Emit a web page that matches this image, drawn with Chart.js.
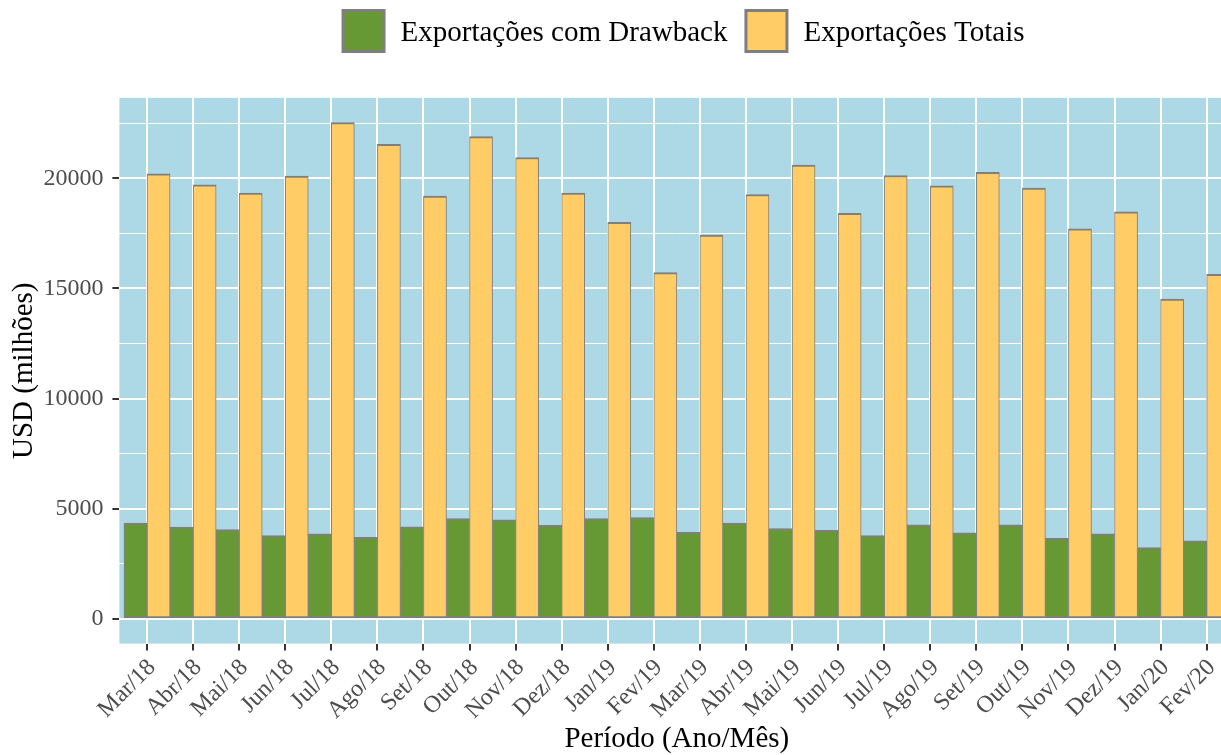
<!DOCTYPE html>
<html>
<head>
<meta charset="utf-8">
<script src="https://cdn.jsdelivr.net/npm/chart.js@4.4.1/dist/chart.umd.min.js"></script>
<style>
html,body{margin:0;padding:0;overflow:hidden;background:#fff;width:1221px;height:755px}
#wrap{width:1240px;height:755px}
</style>
</head>
<body>
<div id="wrap"><canvas id="c" width="1240" height="755" style="width:1240px;height:755px"></canvas></div>
<script>
// ---- data ----
const categories = ['Mar/18','Abr/18','Mai/18','Jun/18','Jul/18','Ago/18','Set/18','Out/18','Nov/18','Dez/18','Jan/19','Fev/19','Mar/19','Abr/19','Mai/19','Jun/19','Jul/19','Ago/19','Set/19','Out/19','Nov/19','Dez/19','Jan/20','Fev/20'];
const drawback = [4350,4170,4050,3780,3860,3700,4180,4550,4500,4250,4550,4600,3930,4350,4100,4020,3780,4270,3900,4270,3650,3860,3230,3540];
const totais   = [20210,19710,19330,20100,22530,21550,19200,21900,20950,19330,18000,15720,17420,19270,20600,18410,20130,19660,20280,19560,17710,18480,14520,15640];
const seriesLabels = ['Exportações com Drawback','Exportações Totais'];
const yMajorTicks = [0,5000,10000,15000,20000];
const yMinorTicks = [2500,7500,12500,17500,22500];
const xTitle = 'Período (Ano/Mês)';
const yTitle = 'USD (milhões)';

const FONT = '"Liberation Serif", "Times New Roman", serif';
const GREEN = '#669933', YELLOW = '#FFCC66', EDGE = '#7F7F7F';

const panelPlugin = {
  id: 'panel',
  beforeDraw(chart) {
    const {ctx, chartArea: a} = chart;
    ctx.save();
    ctx.fillStyle = '#fff';
    ctx.fillRect(0, 0, chart.width, chart.height);
    ctx.fillStyle = '#ADD8E6';
    ctx.fillRect(a.left, a.top, a.right - a.left, a.bottom - a.top);
    ctx.restore();
  }
};

const legendPlugin = {
  id: 'ggLegend',
  afterDraw(chart) {
    const ctx = chart.ctx;
    ctx.save();
    ctx.font = '29px ' + FONT;
    const items = chart.data.datasets.map(ds => ({label: ds.label, fill: ds.backgroundColor}));
    const box = 44, gapText = 15, gapItem = 17, bw = 3;
    const widths = items.map(it => ctx.measureText(it.label).width);
    let total = 0;
    items.forEach((it, i) => { total += box + gapText + widths[i]; });
    total += gapItem * (items.length - 1);
    let x = 683 - total / 2;
    const y = 9;
    items.forEach((it, i) => {
      ctx.fillStyle = EDGE;
      ctx.fillRect(x, y, box, box);
      ctx.fillStyle = it.fill;
      ctx.fillRect(x + bw, y + bw, box - 2 * bw, box - 2 * bw);
      ctx.fillStyle = '#000';
      ctx.textBaseline = 'middle';
      ctx.textAlign = 'left';
      ctx.fillText(it.label, x + box + gapText, y + box / 2 + 2);
      x += box + gapText + widths[i] + gapItem;
    });
    ctx.restore();
  }
};

const barStyle = {
  borderColor: EDGE,
  borderWidth: {top: 2, bottom: 2, left: 1, right: 1},
  borderSkipped: false,
  categoryPercentage: 1,
  barPercentage: 1
};

new Chart(document.getElementById('c'), {
  type: 'bar',
  data: {
    datasets: [
      Object.assign({label: seriesLabels[0], backgroundColor: GREEN,
        data: drawback.map((v, i) => ({x: i, y: v}))}, barStyle),
      Object.assign({label: seriesLabels[1], backgroundColor: YELLOW,
        data: totais.map((v, i) => ({x: i, y: v}))}, barStyle)
    ]
  },
  options: {
    responsive: false,
    animation: false,
    devicePixelRatio: 1,
    layout: {padding: {top: 97.9, right: 5.7, bottom: 0, left: 0}},
    plugins: {legend: {display: false}, tooltip: {enabled: false}},
    scales: {
      x: {
        type: 'linear',
        offset: false,
        min: -0.6,
        max: categories.length - 0.4,
        afterBuildTicks: s => { s.ticks = categories.map((_, i) => ({value: i})); },
        afterCalculateLabelRotation: s => { s.labelRotation = 45; },
        afterFit: s => { s.height = 111.4; },
        ticks: {
          autoSkip: false, minRotation: 45, maxRotation: 45,
          color: '#4D4D4D', font: {family: FONT, size: 24},
          padding: 3, labelOffset: 5,
          callback: (v, i) => categories[i]
        },
        grid: {offset: false, color: '#FFFFFF', lineWidth: 2, tickColor: '#333333', tickWidth: 2, tickLength: 7},
        border: {display: false},
        title: {display: true, text: xTitle, color: '#000', font: {family: FONT, size: 29, lineHeight: 1}, padding: {top: 0, bottom: 1}}
      },
      y: {
        min: -1126,
        max: 23655,
        afterBuildTicks: s => { s.ticks = yMajorTicks.concat(yMinorTicks).sort((a, b) => a - b).map(v => ({value: v})); },
        afterFit: s => { s.width = 119.4; },
        ticks: {
          color: '#4D4D4D', font: {family: FONT, size: 24}, padding: 9,
          callback: v => yMajorTicks.includes(v) ? String(v) : ''
        },
        grid: {
          color: '#FFFFFF',
          lineWidth: c => (c.tick && yMajorTicks.includes(c.tick.value)) ? 2 : 1,
          tickColor: c => (c.tick && yMajorTicks.includes(c.tick.value)) ? '#333333' : 'rgba(0,0,0,0)',
          tickWidth: 2, tickLength: 7
        },
        border: {display: false},
        title: {display: true, text: yTitle, color: '#000', font: {family: FONT, size: 29, lineHeight: 1}, padding: {top: 9.5, bottom: 0}}
      }
    }
  },
  plugins: [panelPlugin, legendPlugin]
});
</script>
</body>
</html>
